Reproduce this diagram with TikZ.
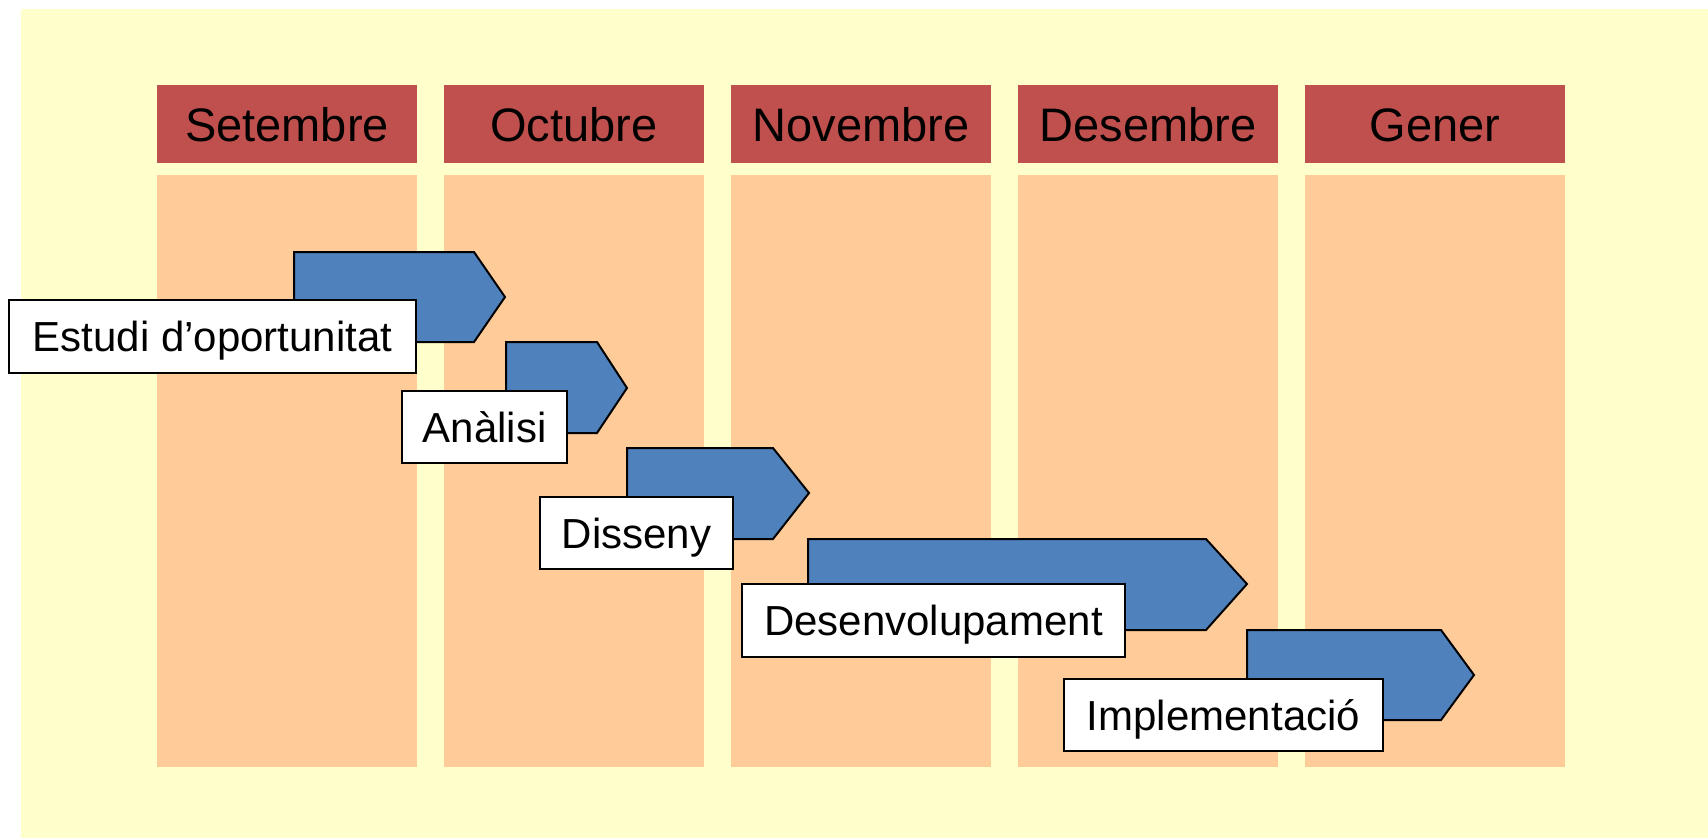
\documentclass[tikz,border=0pt]{standalone}
\usepackage{fontspec}
\setmainfont{Liberation Sans}
\definecolor{bgyellow}{RGB}{255,255,204}
\definecolor{hdrred}{RGB}{192,80,77}
\definecolor{colorange}{RGB}{255,204,153}
\definecolor{barblue}{RGB}{79,129,189}
\begin{document}
\begin{tikzpicture}[x=1pt,y=-1pt,
  hdr/.style={fill=hdrred, minimum width=260pt, minimum height=78pt, inner sep=0pt, text=black, text height=34pt, text depth=0pt, font=\fontsize{47}{56}\selectfont},
  colbox/.style={fill=colorange},
  bar/.style={fill=barblue, draw=black, line width=2pt, line join=miter},
  lab/.style={fill=white, draw=black, line width=2pt, inner sep=0pt, text=black, text height=30pt, text depth=0pt, font=\fontsize{42}{50}\selectfont}]
\useasboundingbox (0,0) rectangle (1708,838);
\fill[white] (0,0) rectangle (1708,838);
\fill[bgyellow] (21,9) rectangle (1708,838);
% month columns
\foreach \x/\m/\n in {157/Setembre/h1,444/Octubre/h2,731/Novembre/h3,1018/Desembre/h4,1305/Gener/h5}{
  \node[hdr] (\n) at (\x+130,124) {\m};
  \fill[colbox] (\x,175) rectangle (\x+260,767);
}
% bars and labels
\draw[bar] (294,252) -- (474,252) -- (505,297) -- (474,342) -- (294,342) -- cycle;
\node[lab, minimum width=407pt, minimum height=73pt] (l1) at (212.5,336.5) {Estudi d’oportunitat};
\draw[bar] (506,342) -- (597,342) -- (627,388) -- (597,433) -- (506,433) -- cycle;
\node[lab, minimum width=165pt, minimum height=72pt] (l2) at (484.5,427) {Anàlisi};
\draw[bar] (627,448) -- (773,448) -- (809,493) -- (773,539) -- (627,539) -- cycle;
\node[lab, minimum width=193pt, minimum height=72pt] (l3) at (636.5,533) {Disseny};
\draw[bar] (808,539) -- (1206,539) -- (1247,584) -- (1206,630) -- (808,630) -- cycle;
\node[lab, minimum width=383pt, minimum height=73pt] (l4) at (933.5,620.5) {Desenvolupament};
\draw[bar] (1247,630) -- (1441,630) -- (1474,675) -- (1441,720) -- (1247,720) -- cycle;
\node[lab, minimum width=319pt, minimum height=72pt] (l5) at (1223.5,715) {Implementació};
\end{tikzpicture}
\end{document}
